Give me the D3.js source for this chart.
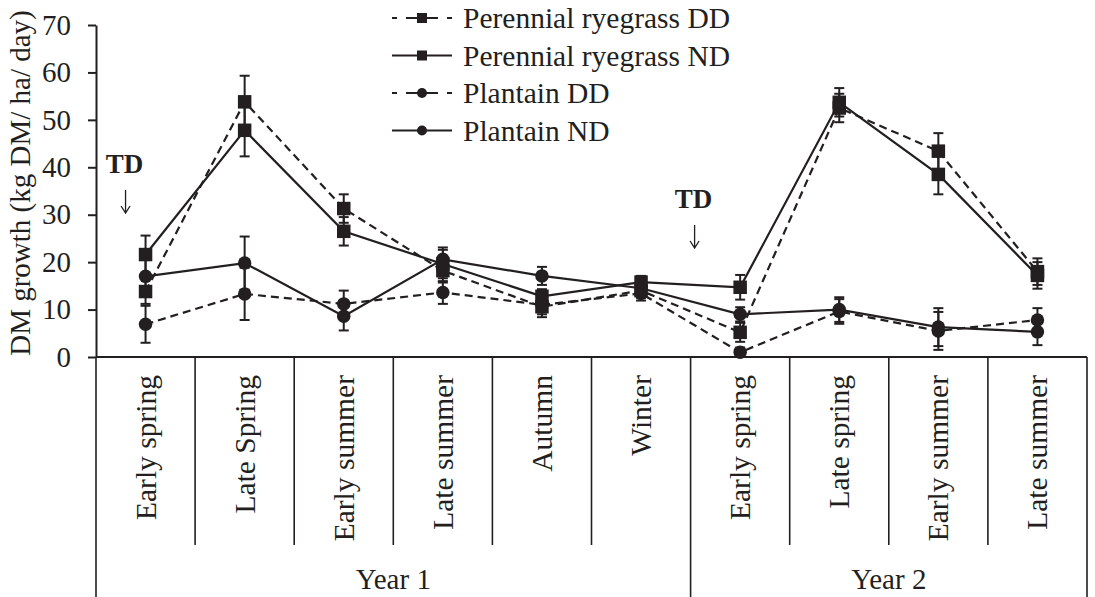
<!DOCTYPE html>
<html>
<head>
<meta charset="utf-8">
<script src="https://cdn.jsdelivr.net/npm/d3@7"></script>
<style>
  body { margin: 0; background: #fff; }
  text { font-family: "Liberation Serif", "Times New Roman", serif; fill: #231f20; }
</style>
</head>
<body>
<script>
const width = 1095
const height = 597
const margin = ({top: 25, right: 8, bottom: 240, left: 96})
const ink = "#231f20"

// categories and year groups
const categories = ["Early spring", "Late Spring", "Early summer", "Late summer", "Autumn", "Winter",
                    "Early spring", "Late spring", "Early summer", "Late summer"]
const yearLabels = ["Year 1", "Year 2"]
const yearSizes = [6, 4]
const yTicks = [0, 10, 20, 30, 40, 50, 60, 70]

// DM growth (kg DM/ha/day) and error bars
const ryegrassDD = [13.8, 53.8, 31.3, 18.2, 10.6, 14.0, 5.2, 52.5, 43.4, 18.0]
const ryegrassDDerr = [2.6, 5.5, 3.0, 2.5, 2.2, 1.5, 2.0, 3.0, 3.8, 2.8]
const ryegrassND = [21.6, 47.8, 26.5, 19.6, 12.8, 15.8, 14.7, 53.7, 38.5, 17.2]
const ryegrassNDerr = [4.0, 5.5, 3.0, 3.0, 1.5, 1.3, 2.6, 3.0, 4.2, 2.8]
const plantainDD = [6.9, 13.3, 11.2, 13.6, 11.0, 13.4, 1.0, 9.6, 5.5, 7.8]
const plantainDDerr = [3.9, 5.5, 2.8, 2.4, 2.0, 1.5, 1.0, 2.6, 4.0, 2.5]
const plantainND = [17.0, 19.8, 8.6, 20.6, 17.1, 14.5, 9.0, 10.0, 6.3, 5.3]
const plantainNDerr = [4.0, 5.6, 3.0, 2.5, 1.9, 1.5, 1.5, 2.6, 4.0, 2.8]

// TD markers sit over these categories
const tdAt = [0, 6]

const series = [
  {name: "Perennial ryegrass DD", values: ryegrassDD, err: ryegrassDDerr, dashed: true, shape: "square"},
  {name: "Perennial ryegrass ND", values: ryegrassND, err: ryegrassNDerr, dashed: false, shape: "square"},
  {name: "Plantain DD", values: plantainDD, err: plantainDDerr, dashed: true, shape: "circle"},
  {name: "Plantain ND", values: plantainND, err: plantainNDerr, dashed: false, shape: "circle"}
]

const x = d3.scaleBand()
    .domain(d3.range(categories.length))
    .range([margin.left, width - margin.right])
    .padding(0)

const y = d3.scaleLinear()
    .domain([0, 70])
    .range([height - margin.bottom, margin.top])

const cx = i => x(i) + x.bandwidth() / 2

const svg = d3.select("body").append("svg")
    .attr("width", width)
    .attr("height", height)
    .attr("viewBox", [0, 0, width, height])

// y axis
svg.append("g")
    .attr("transform", `translate(${margin.left},0)`)
    .call(d3.axisLeft(y).tickValues(yTicks).tickSize(8).tickPadding(17).tickSizeOuter(0))
    .call(g => g.selectAll("path, line").attr("stroke", ink).attr("stroke-width", 2))
    .call(g => g.selectAll("text").attr("font-size", 29).attr("font-family", "Liberation Serif").attr("fill", ink))

svg.append("text")
    .attr("transform", `translate(30,${(y(0) + y(70)) / 2 - 8}) rotate(-90)`)
    .attr("text-anchor", "middle")
    .attr("font-size", 29)
    .text("DM growth (kg DM/ ha/ day)")

// x axis: baseline, category dividers, year dividers
const y0 = y(0)
svg.append("line")
    .attr("x1", margin.left).attr("x2", width - margin.right)
    .attr("y1", y0).attr("y2", y0)
    .attr("stroke", ink).attr("stroke-width", 2)

const yearStarts = d3.cumsum([0, ...yearSizes])  // 0, 6, 10
const bounds = d3.range(categories.length + 1)
svg.append("g").selectAll("line")
  .data(bounds)
  .join("line")
    .attr("x1", i => i < categories.length ? x(i) : x.range()[1])
    .attr("x2", i => i < categories.length ? x(i) : x.range()[1])
    .attr("y1", y0)
    .attr("y2", i => yearStarts.includes(i) ? height : 545)
    .attr("stroke", ink).attr("stroke-width", 1.6)

svg.append("g").selectAll("text")
  .data(categories)
  .join("text")
    .attr("transform", (d, i) => `translate(${cx(i) + 10},${y0 + 18}) rotate(-90)`)
    .attr("text-anchor", "end")
    .attr("font-size", 29.5)
    .text(d => d)

svg.append("g").selectAll("text")
  .data(yearLabels)
  .join("text")
    .attr("x", (d, i) => {
      const a = x(yearStarts[i])
      const b = yearStarts[i + 1] < categories.length ? x(yearStarts[i + 1]) : x.range()[1]
      return (a + b) / 2
    })
    .attr("y", 589)
    .attr("text-anchor", "middle")
    .attr("font-size", 29)
    .text(d => d)

// series lines
const line = d3.line().x((d, i) => cx(i)).y(d => y(d))
const plot = svg.append("g")

plot.selectAll("path.series")
  .data(series)
  .join("path")
    .attr("class", "series")
    .attr("d", s => line(s.values))
    .attr("fill", "none")
    .attr("stroke", ink)
    .attr("stroke-width", 2.2)
    .attr("stroke-dasharray", s => s.dashed ? "8,5" : null)

// error bars
series.forEach(s => {
  const g = plot.append("g").attr("stroke", ink).attr("stroke-width", 2)
  s.values.forEach((v, i) => {
    const lo = y(v - s.err[i]), hi = y(v + s.err[i]), px = cx(i)
    g.append("line").attr("x1", px).attr("x2", px).attr("y1", lo).attr("y2", hi)
    g.append("line").attr("x1", px - 5).attr("x2", px + 5).attr("y1", lo).attr("y2", lo)
    g.append("line").attr("x1", px - 5).attr("x2", px + 5).attr("y1", hi).attr("y2", hi)
  })
})

// markers
function marker(g, shape, px, py, size) {
  if (shape === "square") {
    g.append("rect").attr("x", px - size / 2).attr("y", py - size / 2)
      .attr("width", size).attr("height", size).attr("fill", ink)
  } else {
    g.append("circle").attr("cx", px).attr("cy", py).attr("r", size / 2).attr("fill", ink)
  }
}
series.forEach(s => {
  const g = plot.append("g")
  s.values.forEach((v, i) => marker(g, s.shape, cx(i), y(v), 13.5))
})

// TD annotations with a thin down arrow
tdAt.forEach((i, k) => {
  const tx = k === 0 ? cx(i) - 21 : x(i) + 3
  const base = k === 0 ? 173 : 208
  svg.append("text")
      .attr("x", tx).attr("y", base)
      .attr("text-anchor", "middle")
      .attr("font-size", 27).attr("font-weight", "bold")
      .text("TD")
  const ax = tx + 1, top = base + 17, bot = base + 40
  svg.append("path")
      .attr("d", `M${ax},${top}V${bot}M${ax - 4.5},${bot - 7}L${ax},${bot}L${ax + 4.5},${bot - 7}`)
      .attr("fill", "none")
      .attr("stroke", ink)
      .attr("stroke-width", 1.3)
})

// legend
const legend = svg.append("g")
series.forEach((s, k) => {
  const ly = 18 + k * 37.5
  legend.append("line")
      .attr("x1", 392).attr("x2", 452).attr("y1", ly).attr("y2", ly)
      .attr("stroke", ink).attr("stroke-width", 2.2)
      .attr("stroke-dasharray", s.dashed ? "5,9,32,9,5" : null)
  marker(legend, s.shape, 422, ly, 10)
  legend.append("text")
      .attr("x", 463).attr("y", ly).attr("dy", "0.35em")
      .attr("font-size", 29.5)
      .text(s.name)
})
</script>
</body>
</html>
